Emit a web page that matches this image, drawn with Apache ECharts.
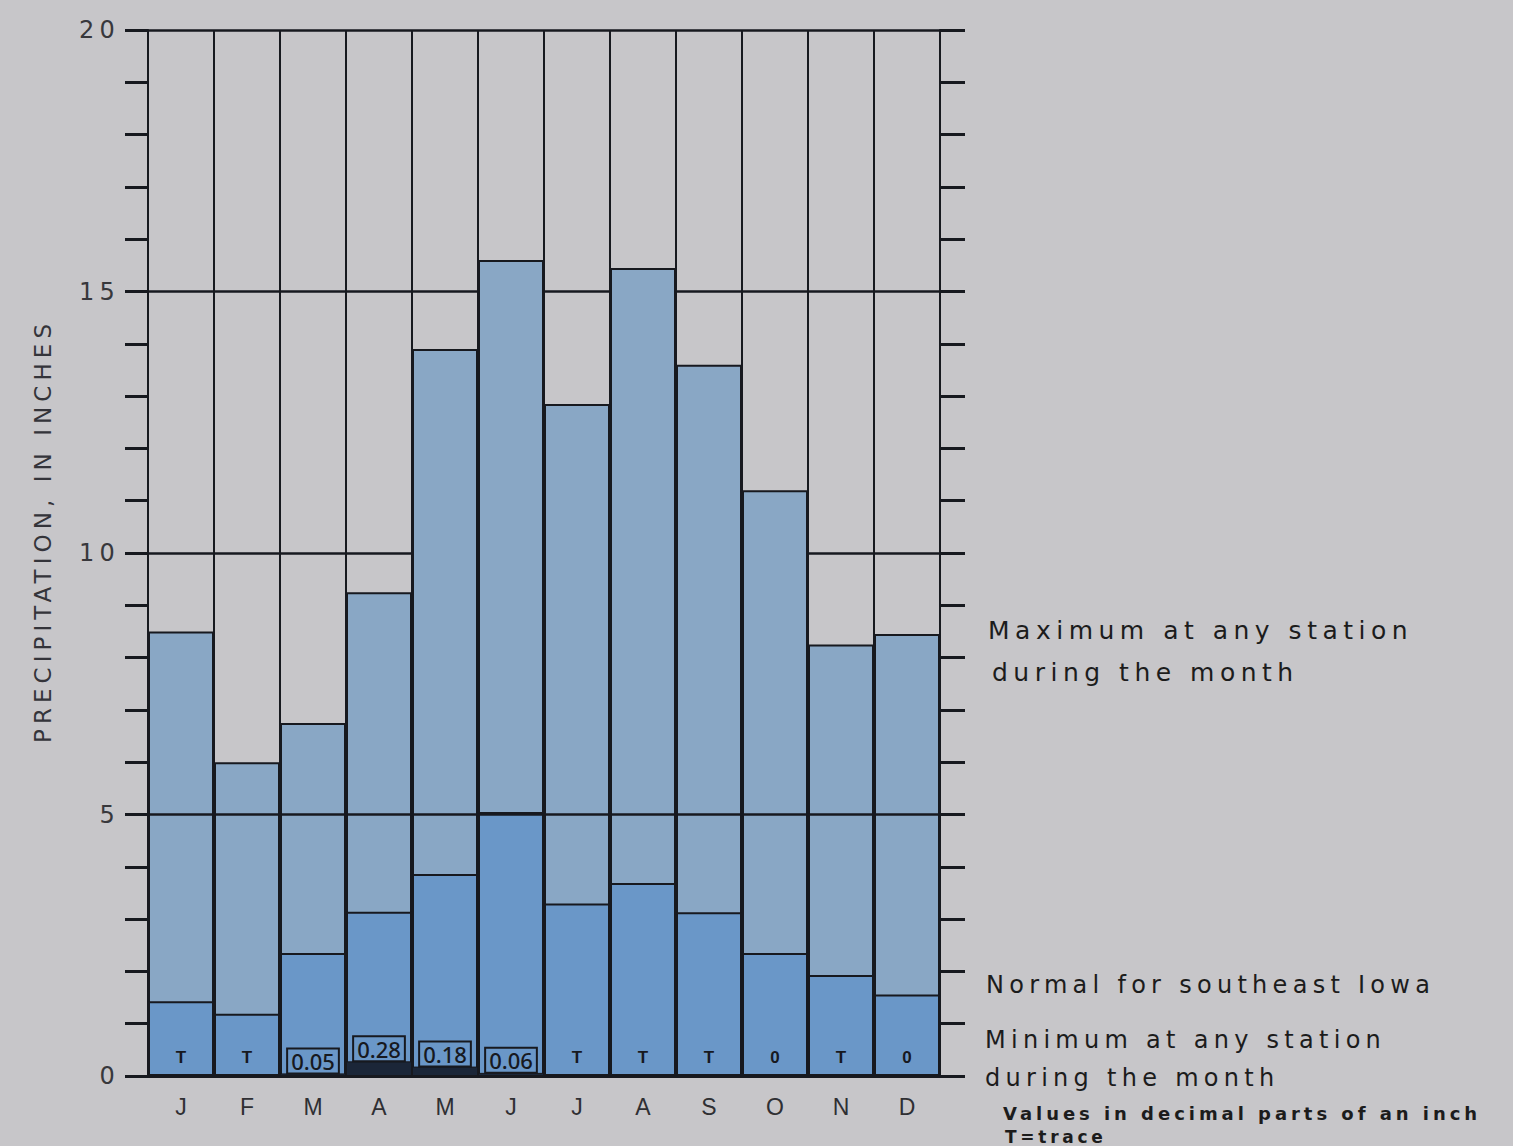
<!DOCTYPE html>
<html>
<head>
<meta charset="utf-8">
<script src="https://cdn.jsdelivr.net/npm/echarts@6/dist/echarts.min.js"></script>
<style>
  html, body { margin: 0; padding: 0; background: #c7c6c9; }
  #chart { width: 1513px; height: 1146px; }
  #chart text[style*="DejaVu"], #chart text[font-family*="DejaVu"] { letter-spacing: 0.22em; }
</style>
</head>
<body>
<div id="chart"></div>
<script>
const months = ['J','F','M','A','M','J','J','A','S','O','N','D'];
const maxVals = [8.5, 6.0, 6.75, 9.25, 13.9, 15.6, 12.85, 15.45, 13.6, 11.2, 8.25, 8.45];
const normalVals = [1.43, 1.19, 2.35, 3.14, 3.86, 5.05, 3.3, 3.69, 3.13, 2.35, 1.93, 1.56];
const minVals = [0, 0, 0.05, 0.28, 0.18, 0.06, 0, 0, 0, 0, 0, 0];
const minLabels = ['T','T','0.05','0.28','0.18','0.06','T','T','T','0','T','0'];
const legendLines = [
  'Maximum at any station', 'during the month',
  'Normal for southeast Iowa',
  'Minimum at any station', 'during the month',
  'Values in decimal parts of an inch', 'T=trace'
];

const INK = '#17191f';
const SPACED = 'DejaVu Sans';
const PLAIN = 'Liberation Sans';
const colMax = '#89a7c5';
const colNormal = '#6a97c8';
const colMin = '#1b2638';

const chart = echarts.init(document.getElementById('chart'), null, { renderer: 'svg' });

const minData = minVals.map((v, i) => {
  const numeric = /\d\./.test(minLabels[i]);
  return {
    value: v,
    label: numeric ? {
      show: true, position: 'top', distance: 1,
      formatter: minLabels[i],
      fontSize: 22, lineHeight: 21, fontWeight: 500, fontFamily: 'Noto Sans', color: INK,
      backgroundColor: colNormal, borderColor: INK, borderWidth: 2,
      padding: [1, 3, 1, 3]
    } : {
      show: true, position: 'top', distance: 10,
      formatter: minLabels[i],
      fontSize: 17, fontWeight: 'bold', fontFamily: PLAIN, color: INK
    }
  };
});

function legendText(t, x, y, size, weight) {
  return {
    type: 'text', silent: true,
    style: {
      text: t, x: x, y: y, fill: '#1c1c1c',
      fontSize: size, fontFamily: SPACED, fontWeight: weight || 'normal',
      verticalAlign: 'middle', align: 'left'
    }
  };
}

const option = {
  backgroundColor: '#c7c6c9',
  animation: false,
  grid: { left: 148, right: 573, top: 30, bottom: 70, containLabel: false },
  xAxis: {
    type: 'category',
    data: months,
    boundaryGap: true,
    axisLine: { show: true, lineStyle: { color: INK, width: 3 } },
    axisTick: { show: false },
    axisLabel: { fontSize: 23, fontFamily: PLAIN, color: '#2f2f33', margin: 19 },
    splitLine: { show: true, interval: 0, lineStyle: { color: INK, width: 2 } }
  },
  yAxis: [
    {
      type: 'value', min: 0, max: 20, interval: 5, position: 'left',
      name: 'PRECIPITATION, IN INCHES',
      nameLocation: 'middle', nameRotate: 90, nameGap: 94,
      nameTextStyle: { fontSize: 23, fontFamily: SPACED, color: '#34343a', padding: [0, 0, 0, 44] },
      axisLine: { show: true, lineStyle: { color: INK, width: 2 } },
      axisTick: { show: true, inside: false, length: 23, lineStyle: { color: INK, width: 3 } },
      minorTick: { show: true, splitNumber: 5, length: 23, lineStyle: { color: INK, width: 3 } },
      axisLabel: { fontSize: 24, fontFamily: SPACED, color: '#38383c', margin: 28 },
      splitLine: { show: true, lineStyle: { color: INK, width: 2.5 } },
      minorSplitLine: { show: false }
    },
    {
      type: 'value', min: 0, max: 20, interval: 5, position: 'right',
      axisLine: { show: true, lineStyle: { color: INK, width: 2 } },
      axisTick: { show: true, inside: false, length: 25, lineStyle: { color: INK, width: 3 } },
      minorTick: { show: true, splitNumber: 5, length: 25, lineStyle: { color: INK, width: 3 } },
      axisLabel: { show: false },
      splitLine: { show: false }
    }
  ],
  series: [
    {
      name: 'Maximum', type: 'bar', data: maxVals,
      barWidth: '100%', barGap: '-100%', z: 2,
      itemStyle: { color: colMax, borderColor: INK, borderWidth: 2 }
    },
    {
      name: 'Normal', type: 'bar', data: normalVals,
      barWidth: '100%', barGap: '-100%', z: 3,
      itemStyle: { color: colNormal, borderColor: INK, borderWidth: 2 }
    },
    {
      name: 'Minimum', type: 'bar', data: minData,
      barWidth: '100%', barGap: '-100%', z: 4,
      itemStyle: { color: colMin, borderColor: INK, borderWidth: 1 },
      markLine: {
        silent: true, symbol: 'none', label: { show: false },
        lineStyle: { color: INK, width: 2.5, type: 'solid' },
        data: [{ yAxis: 5 }]
      }
    }
  ],
  graphic: [
    legendText(legendLines[0], 988, 630, 25),
    legendText(legendLines[1], 992, 672, 25),
    legendText(legendLines[2], 986, 985, 24),
    legendText(legendLines[3], 985, 1040, 24),
    legendText(legendLines[4], 985, 1078, 24),
    legendText(legendLines[5], 1003, 1113, 18, 'bold'),
    legendText(legendLines[6], 1005, 1137, 17, 'bold')
  ]
};
chart.setOption(option);
</script>
</body>
</html>
